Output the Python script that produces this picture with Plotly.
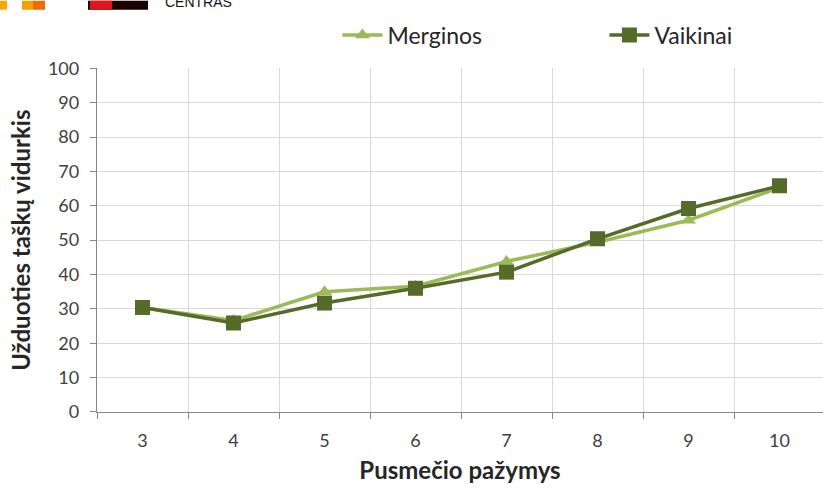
import plotly.graph_objects as go

grades = [3, 4, 5, 6, 7, 8, 9, 10]
merginos = [30.4, 26.6, 35.0, 36.6, 43.8, 49.4, 55.8, 65.3]
vaikinai = [30.4, 25.9, 31.7, 36.0, 40.7, 50.4, 59.2, 65.8]
y_ticks = list(range(0, 101, 10))

light = "#9BBB59"
dark = "#556B2A"
font_family = "Lato, 'Open Sans', sans-serif"

fig = go.Figure()
fig.add_trace(go.Scatter(
    x=grades, y=merginos, name="Merginos", mode="lines+markers",
    line=dict(color=light, width=3.5),
    marker=dict(symbol="triangle-up", size=13, color=light),
))
fig.add_trace(go.Scatter(
    x=grades, y=vaikinai, name="Vaikinai", mode="lines+markers",
    line=dict(color=dark, width=3.5),
    marker=dict(symbol="square", size=15, color=dark),
))

fig.update_layout(
    width=823, height=488,
    margin=dict(l=97, r=0, t=66, b=76),
    paper_bgcolor="white", plot_bgcolor="white",
    font=dict(family=font_family, color="#404040"),
    legend=dict(
        orientation="h", xref="container", yref="container",
        x=0.41, y=0.928, xanchor="left", yanchor="middle",
        font=dict(size=23, color="#262626"),
        entrywidth=212, entrywidthmode="pixels",
        itemwidth=40,
    ),
    xaxis=dict(
        range=[2.5, 10.478], tickvals=grades, ticktext=[str(g) for g in grades],
        showgrid=False, zeroline=False,
        showline=True, linecolor="#868686", linewidth=1.3,
        ticks="", tickfont=dict(size=18, color="#404040"), ticklabelstandoff=12,
        minor=dict(tick0=2.5, dtick=1, showgrid=True, gridcolor="#D9D9D9",
                   gridwidth=1.3, ticks="outside", ticklen=6, tickcolor="#868686"),
        title=dict(text="<b>Pusmečio pažymys</b>", font=dict(size=24, color="#262626"),
                   standoff=12),
    ),
    yaxis=dict(
        range=[0, 100], tickvals=y_ticks,
        showgrid=True, gridcolor="#D9D9D9", gridwidth=1.3, zeroline=False,
        showline=True, linecolor="#868686", linewidth=1.3,
        ticks="outside", ticklen=6, tickcolor="#868686", ticklabelstandoff=7,
        tickfont=dict(size=18, color="#404040"),
        title=dict(text="<b>Užduoties taškų vidurkis</b>", font=dict(size=24, color="#262626"),
                   standoff=10),
    ),
)

# cropped logo remnants at the top-left corner (paper coords relative to plot area)
def px(x):
    return (x - 97) / 726

def py(y):
    return 1 + (66 - y) / 346

for x0, x1, col in [(0, 7, "#F9A800"), (22, 33, "#F5A000"), (33, 45, "#EE6A0A"),
                    (88, 148, "#1A0000"), (90, 112, "#E0161E")]:
    fig.add_shape(type="rect", xref="paper", yref="paper", x0=px(x0), x1=px(x1),
                  y0=py(7), y1=py(-2), fillcolor=col, line_width=0)
fig.add_annotation(text="CENTRAS", xref="paper", yref="paper",
                   x=px(163), y=py(9), xanchor="left", yanchor="bottom",
                   showarrow=False, font=dict(size=14, color="#111111",
                                              family="'Liberation Sans', Arial"))

fig.write_html("out.html", post_script="document.body.style.margin='0';",
               config={"displayModeBar": False})
